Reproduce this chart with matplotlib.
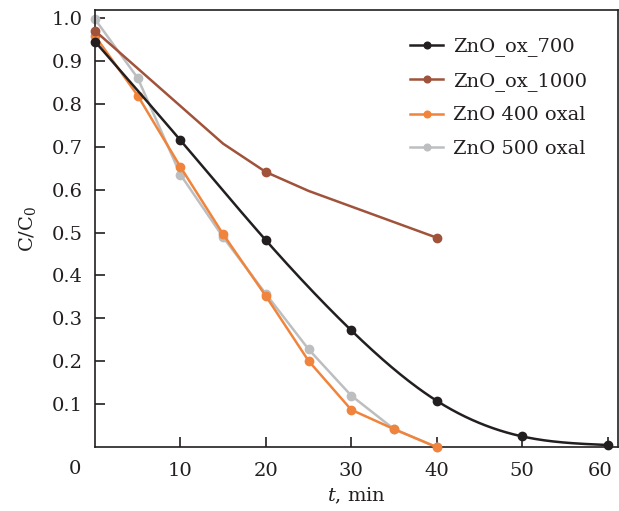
import numpy as np
import matplotlib.pyplot as plt
import matplotlib.transforms as mtransforms

plt.rcParams['font.family'] = ['DejaVu Serif']
plt.rcParams['mathtext.fontset'] = 'dejavuserif'

# data
t_700 = [0, 10, 20, 30, 40, 50, 60]
c_700 = [0.945, 0.715, 0.482, 0.272, 0.108, 0.025, 0.005]

t_1000 = [0, 15, 20, 25, 40]
c_1000 = [0.97, 0.707, 0.641, 0.597, 0.488]
marked_1000 = [0, 2, 4]

t_400 = [0, 5, 10, 15, 20, 25, 30, 35, 40]
c_400 = [0.958, 0.819, 0.653, 0.496, 0.352, 0.201, 0.087, 0.042, 0.0]

t_500 = [0, 5, 10, 15, 20, 25, 30, 35, 40]
c_500 = [0.997, 0.86, 0.635, 0.489, 0.357, 0.228, 0.12, 0.042, 0.0]

labels = ["ZnO_ox_700", "ZnO_ox_1000", "ZnO 400 oxal", "ZnO 500 oxal"]
colors = ["#231f20", "#a0523a", "#f0843c", "#bdbec0"]
x_ticks = [10, 20, 30, 40, 50, 60]
y_ticks = [0.1, 0.2, 0.3, 0.4, 0.5, 0.6, 0.7, 0.8, 0.9, 1.0]


def natural_spline(x, y, n=300):
    """Natural cubic spline through (x, y), evaluated on a fine grid."""
    x = np.asarray(x, float)
    y = np.asarray(y, float)
    k = len(x)
    h = np.diff(x)
    A = np.zeros((k, k))
    b = np.zeros(k)
    A[0, 0] = A[-1, -1] = 1
    for i in range(1, k - 1):
        A[i, i - 1] = h[i - 1]
        A[i, i] = 2 * (h[i - 1] + h[i])
        A[i, i + 1] = h[i]
        b[i] = 3 * ((y[i + 1] - y[i]) / h[i] - (y[i] - y[i - 1]) / h[i - 1])
    c = np.linalg.solve(A, b)
    xs = np.linspace(x[0], x[-1], n)
    idx = np.clip(np.searchsorted(x, xs) - 1, 0, k - 2)
    dx = xs - x[idx]
    bi = (y[idx + 1] - y[idx]) / h[idx] - h[idx] * (2 * c[idx] + c[idx + 1]) / 3
    di = (c[idx + 1] - c[idx]) / (3 * h[idx])
    ys = y[idx] + bi * dx + c[idx] * dx ** 2 + di * dx ** 3
    return xs, ys


fig = plt.figure(figsize=(6.19, 5.11), dpi=100)
ax = fig.add_axes([0.1535, 0.125, 0.8445, 0.855])

lw = 1.8
ms = 6

# ZnO_ox_700: smooth curve + markers
xs, ys = natural_spline(t_700, c_700)
ax.plot(xs, ys, color=colors[0], lw=lw, zorder=5, clip_on=False)
ax.plot(t_700, c_700, 'o', color=colors[0], ms=ms, zorder=5, clip_on=False)
ax.plot([], [], '-o', color=colors[0], lw=lw, ms=ms, label=labels[0])

ax.plot(t_1000, c_1000, '-o', color=colors[1], lw=lw, ms=ms,
        markevery=marked_1000, label=labels[1], zorder=4, clip_on=False)
ax.plot(t_400, c_400, '-o', color=colors[2], lw=lw, ms=ms,
        label=labels[2], zorder=3, clip_on=False)
ax.plot(t_500, c_500, '-o', color=colors[3], lw=lw, ms=ms,
        label=labels[3], zorder=2, clip_on=False)

ax.set_xlim(0, 61.2)
ax.set_ylim(0, 1.018)
ax.set_xticks(x_ticks)
ax.set_yticks(y_ticks)
ax.set_yticklabels([f"{v:.1f}" for v in y_ticks])
ax.tick_params(direction='in', length=7, width=1.2, labelsize=14,
               colors='#231f20', pad=9)
ax.tick_params(axis='x', pad=11)
for sp in ax.spines.values():
    sp.set_color('#231f20')
    sp.set_linewidth(1.2)

# last x label sits a little to the left, inside the figure
last = ax.get_xticklabels()[-1]
last.set_transform(last.get_transform() +
                   mtransforms.ScaledTranslation(-5 / 72, 0, fig.dpi_scale_trans))

ax.text(-0.039, -0.029, "0", transform=ax.transAxes, fontsize=14,
        color='#231f20', ha='center', va='top')

ax.set_xlabel("$t$, min", fontsize=14, color='#231f20', labelpad=4)
ax.set_ylabel("C/C$_0$", fontsize=14, color='#231f20', labelpad=10)

leg = ax.legend(loc='upper right', bbox_to_anchor=(0.975, 0.978),
                frameon=False, fontsize=14, handlelength=1.7,
                handletextpad=0.5, labelspacing=0.8, markerscale=0.8)
for t in leg.get_texts():
    t.set_color('#231f20')

fig.savefig("out.png", dpi=100)
